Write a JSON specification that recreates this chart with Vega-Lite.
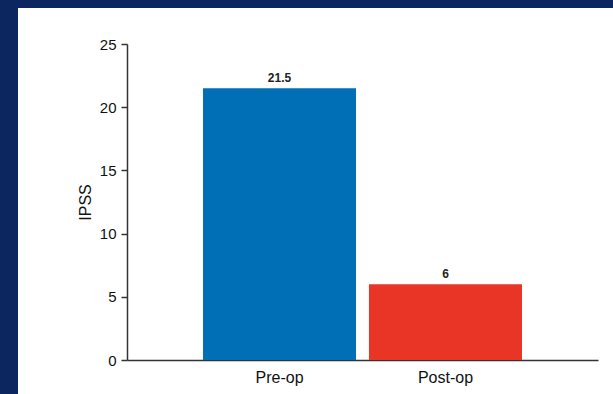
{
  "$schema": "https://vega.github.io/schema/vega-lite/v6.json",
  "width": 595,
  "height": 386,
  "autosize": "none",
  "padding": {"left": 18, "top": 8, "right": 0, "bottom": 0},
  "background": "#0c2660",
  "config": {"view": {"fill": "white", "stroke": null}, "font": "Liberation Sans"},
  "data": {"values": [{"period": "Pre-op", "ipss": 21.5}, {"period": "Post-op", "ipss": 6}]},
  "encoding": {
    "x": {
      "field": "period", "type": "nominal", "sort": null,
      "scale": {"range": [109, 580], "paddingInner": 0.078, "paddingOuter": 0.458},
      "axis": {"orient": "bottom", "offset": -34, "domainColor": "#333333", "domainWidth": 1.5, "ticks": false, "labelPadding": 9, "labelFontSize": 16, "labelColor": "#111111", "labelAngle": 0, "title": null, "grid": false}
    },
    "y": {
      "field": "ipss", "type": "quantitative",
      "scale": {"domain": [0, 25], "range": [352, 36], "nice": false},
      "axis": {"orient": "left", "offset": -109, "values": [0, 5, 10, 15, 20, 25], "domainColor": "#333333", "domainWidth": 1.5, "tickColor": "#333333", "tickWidth": 1.5, "tickSize": 6, "labelPadding": 5, "labelFontSize": 15, "labelColor": "#111111", "title": "IPSS", "titleFontSize": 16, "titleFontWeight": "normal", "titleColor": "#111111", "titlePadding": 6, "grid": false}
    }
  },
  "layer": [
    {
      "mark": {"type": "bar"},
      "encoding": {
        "color": {"field": "period", "type": "nominal", "scale": {"domain": ["Pre-op", "Post-op"], "range": ["#006fb6", "#e83525"]}, "legend": null}
      }
    },
    {
      "mark": {"type": "text", "baseline": "bottom", "dy": -3, "fontSize": 12, "fontWeight": "bold", "color": "#222222"},
      "encoding": {"text": {"field": "ipss", "type": "quantitative"}}
    }
  ]
}
